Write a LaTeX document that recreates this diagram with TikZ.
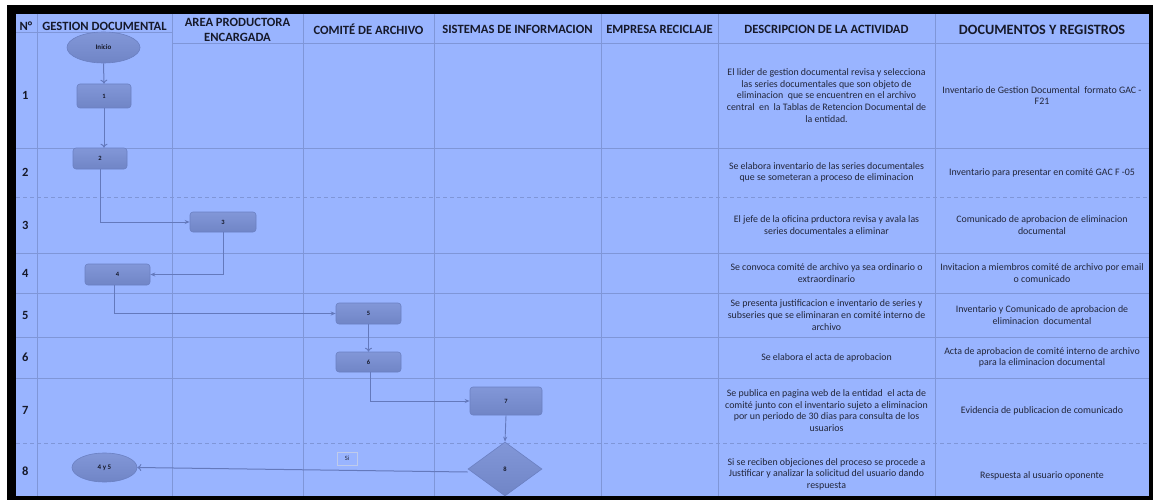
\documentclass[tikz,border=0pt]{standalone}
\usepackage{fontspec}
\setmainfont{Carlito}
\usetikzlibrary{shapes.geometric,arrows.meta}
\definecolor{bg}{HTML}{99B4FF}
\definecolor{gridc}{HTML}{7F96D8}
\definecolor{boxtop}{HTML}{8297D8}
\definecolor{boxbot}{HTML}{7085C6}
\definecolor{boxd}{HTML}{6B80C2}
\definecolor{arr}{HTML}{6479BC}
\definecolor{txt}{HTML}{16192A}
\definecolor{dtxt}{HTML}{22263A}
\begin{document}
\begin{tikzpicture}[x=1pt,y=-1pt,
  gl/.style={draw=gridc, line width=0.8pt},
  gld/.style={draw=gridc, line width=0.8pt, dash pattern=on 4pt off 3pt},
  hdr/.style={font=\fontsize{12.6}{14.5}\selectfont\bfseries, text=txt, align=center, inner sep=0pt},
  rl/.style={font=\fontsize{12.5}{13}\selectfont\bfseries, text=txt, anchor=west, inner sep=0pt},
  desc/.style={font=\fontsize{9.9}{11.6}\selectfont, text=dtxt, align=center, inner sep=0pt},
  stepbox/.style={draw=boxd, line width=0.6pt, top color=boxtop, bottom color=boxbot, rounded corners=3pt,
    inner sep=0pt, font=\fontsize{6.5}{7}\selectfont\bfseries, text=txt},
  termin/.style={ellipse, draw=boxd, line width=0.6pt, top color=boxtop, bottom color=boxbot,
    inner sep=0pt, font=\fontsize{7}{7}\selectfont\bfseries, text=txt},
  decis/.style={diamond, draw=boxd, line width=0.6pt, top color=boxtop, bottom color=boxbot,
    inner sep=0pt, font=\fontsize{6.5}{7}\selectfont\bfseries, text=txt},
  openarr/.style={draw=arr, line width=1pt, -{To[length=4pt,width=7pt]}},
  flowarr/.style={draw=arr, line width=0.9pt, -{Stealth[length=5pt,width=4pt]}}
]
\useasboundingbox (0,0) rectangle (1153,500);
% frame
\fill[white] (0,0) rectangle (1153,500);
\fill[black] (7,5) rectangle (1153,500);
\fill[bg] (16,14) rectangle (1149,496);
% grid
\draw[gl] (16,32) -- (172,32);
\draw[gl] (172,43) -- (1149,43);
\foreach \yy in {148,253,293,337,378} {\draw[gl] (16,\yy) -- (1149,\yy);}
\foreach \yy in {197,443} {\draw[gld] (16,\yy) -- (1149,\yy);}
\foreach \xx in {37,172,303,434,601,718,935} {\draw[gl] (\xx,14) -- (\xx,496);}
% headers
\node[hdr] (hN) at (26,26) {N°};
\node[hdr] (hGD) at (104.5,26) {GESTION DOCUMENTAL};
\node[hdr] (hAP) at (237.5,30) {AREA PRODUCTORA\\ENCARGADA};
\node[hdr] (hCA) at (368.5,29.5) {COMITÉ DE ARCHIVO};
\node[hdr] (hSI) at (517.5,29.5) {SISTEMAS DE INFORMACION};
\node[hdr] (hER) at (659.5,29.5) {EMPRESA RECICLAJE};
\node[hdr] (hDA) at (826.5,29.5) {DESCRIPCION DE LA ACTIVIDAD};
\node[hdr, font=\fontsize{14.2}{15}\selectfont\bfseries] (hDR) at (1042,29.5) {DOCUMENTOS Y REGISTROS};
% row labels
\node[rl] (r1) at (22,95.5) {1};
\node[rl] (r2) at (22,172.5) {2};
\node[rl] (r3) at (22,225) {3};
\node[rl] (r4) at (22,273) {4};
\node[rl] (r5) at (22,315) {5};
\node[rl] (r6) at (22,357.5) {6};
\node[rl] (r7) at (22,410.5) {7};
\node[rl] (r8) at (22,471) {8};
% descriptions
\node[desc] (d1) at (826.5,95.5) {El lider de gestion documental revisa y selecciona\\las series documentales que son objeto de\\eliminacion\ \ que se encuentren en el archivo\\central\ \ en\ \ la Tablas de Retencion Documental de\\la entidad.};
\node[desc] (d2) at (826.5,172.5) {Se elabora inventario de las series documentales\\que se someteran a proceso de eliminacion};
\node[desc] (d3) at (826.5,225) {El jefe de la oficina prductora revisa y avala las\\series documentales a eliminar};
\node[desc] (d4) at (826.5,273) {Se convoca comité de archivo ya sea ordinario o\\extraordinario};
\node[desc] (d5) at (826.5,315) {Se presenta justificacion e inventario de series y\\subseries que se eliminaran en comité interno de\\archivo};
\node[desc] (d6) at (826.5,357.5) {Se elabora el acta de aprobacion};
\node[desc] (d7) at (826.5,410.5) {Se publica en pagina web de la entidad\ \ el acta de\\comité junto con el inventario sujeto a eliminacion\\por un periodo de 30 dias para consulta de los\\usuarios};
\node[desc] (d8) at (826.5,474) {Si se reciben objeciones del proceso se procede a\\Justificar y analizar la solicitud del usuario dando\\respuesta};
% documents
\node[desc] (g1) at (1042,95.5) {Inventario de Gestion Documental\ \ formato GAC -\\F21};
\node[desc] (g2) at (1042,172.5) {Inventario para presentar en comité GAC F -05};
\node[desc] (g3) at (1042,225) {Comunicado de aprobacion de eliminacion\\documental};
\node[desc] (g4) at (1042,273) {Invitacion a miembros comité de archivo por email\\o comunicado};
\node[desc] (g5) at (1042,315) {Inventario y Comunicado de aprobacion de\\eliminacion\ \ documental};
\node[desc] (g6) at (1042,357.5) {Acta de aprobacion de comité interno de archivo\\para la eliminacion documental};
\node[desc] (g7) at (1042,410.5) {Evidencia de publicacion de comunicado};
\node[desc] (g8) at (1042,476) {Respuesta al usuario oponente};
% flow shapes
\node[termin, minimum width=73pt, minimum height=31pt] (ini) at (103.5,47.5) {Inicio};
\node[stepbox, minimum width=54pt, minimum height=24pt] (b1) at (104,96) {1};
\node[stepbox, minimum width=54pt, minimum height=21pt] (b2) at (100,158.5) {2};
\node[stepbox, minimum width=66pt, minimum height=20pt] (b3) at (223,222) {3};
\node[stepbox, minimum width=65pt, minimum height=21pt] (b4) at (117.5,274.5) {4};
\node[stepbox, minimum width=65pt, minimum height=21pt] (b5) at (368.5,313.5) {5};
\node[stepbox, minimum width=65pt, minimum height=20pt] (b6) at (368.5,362) {6};
\node[stepbox, minimum width=72pt, minimum height=28pt] (b7) at (506,401) {7};
\node[decis, minimum width=74pt, minimum height=54pt] (d8s) at (505,469) {8};
\node[termin, minimum width=65pt, minimum height=29pt] (e45) at (104.5,467.5) {4 y 5};
% connectors
\draw[openarr] (ini.south) -- (b1.north);
\draw[openarr] (b1.south) -- (b1.south |- b2.north);
\draw[flowarr] (b2.south) |- (b3.west);
\draw[flowarr] (b3.south) |- (b4.east);
\draw[flowarr] ([xshift=-3pt]b4.south) |- (b5.west);
\draw[openarr] (b5.south) -- (b6.north);
\draw[flowarr] ([xshift=1.5pt]b6.south) |- (b7.west);
\draw[flowarr] (b7.south) -- (d8s.north);
\draw[openarr] ([yshift=-3pt]d8s.west) -- (e45.east);
\node[draw=gridc!50!white, line width=0.6pt, minimum width=20pt, minimum height=13pt, inner sep=0pt,
  font=\fontsize{6.5}{7}\selectfont, text=dtxt] (si) at (347,458.5) {Si};
\end{tikzpicture}
\end{document}
